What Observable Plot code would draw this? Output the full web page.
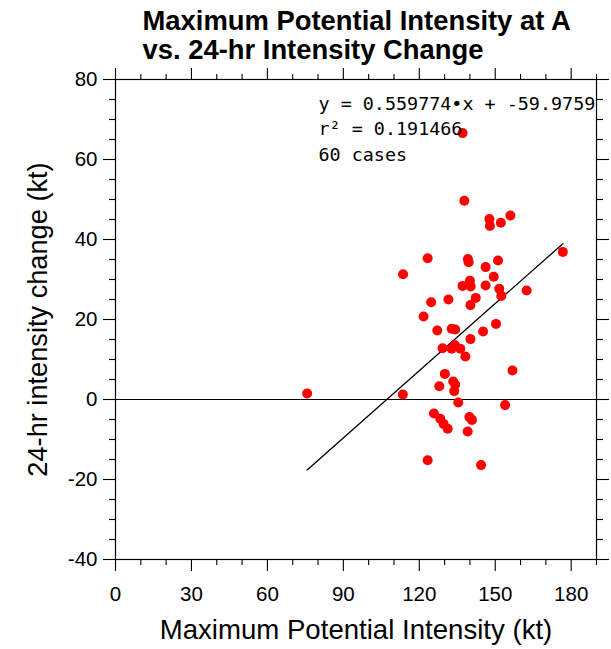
<!DOCTYPE html>
<html>
<head>
<meta charset="utf-8">
<script src="https://cdn.jsdelivr.net/npm/d3@7"></script>
<script src="https://cdn.jsdelivr.net/npm/@observablehq/plot@0.6"></script>
<style>
  html, body { margin: 0; padding: 0; background: #fff; }
  #chart svg { display: block; }
</style>
</head>
<body>
<div id="chart"></div>
<script>
// Maximum Potential Intensity (kt)
const mpi = [
  137.1, 137.8, 147.7, 156.0, 147.9, 152.2, 176.7, 123.3, 139.2, 139.5,
  151.1, 146.2, 113.6, 149.4, 140.0, 137.1, 140.3, 146.2, 151.6, 162.4,
  152.4, 142.3, 131.5, 124.7, 140.2, 121.7, 150.3, 127.1, 132.8, 134.2,
  145.2, 140.2, 129.2, 134.0, 132.8, 136.2, 138.2, 130.1, 156.8, 133.4,
  134.2, 75.7, 113.5, 127.9, 133.8, 135.4, 153.9, 125.8, 128.3, 139.8,
  140.8, 129.6, 131.2, 139.1, 123.3, 144.4
];
// 24-hr intensity change (kt)
const dvmax = [
  66.6, 49.7, 45.1, 46.0, 43.4, 44.2, 36.9, 35.3, 35.1, 34.3,
  34.75, 33.1, 31.3, 30.7, 29.7, 28.4, 28.25, 28.5, 27.7, 27.25,
  25.9, 25.4, 25.0, 24.3, 23.6, 20.75, 18.9, 17.25, 17.7, 17.5,
  17.0, 15.1, 12.8, 13.6, 12.7, 12.7, 10.75, 6.4, 7.25, 4.5,
  3.75, 1.5, 1.25, 3.3, 2.1, -0.75, -1.4, -3.5, -4.8, -4.4,
  -5.1, -6.1, -7.3, -8.0, -15.2, -16.4
];
const slope = 0.559774;
const intercept = -59.9759;
const statLines = ["y = 0.559774\u2022x + -59.9759", "r\u00b2 = 0.191466", "60 cases"];
const titleText = "Maximum Potential Intensity at A\nvs. 24-hr Intensity Change";
const xLabel = "Maximum Potential Intensity (kt)";
const yLabel = "24-hr intensity change (kt)";
const xMajor = [0, 30, 60, 90, 120, 150, 180];
const xMinor = [10, 20, 40, 50, 70, 80, 100, 110, 130, 140, 160, 170, 190];
const yMajor = [-40, -20, 0, 20, 40, 60, 80];
const yMinor = [-35, -30, -25, -15, -10, -5, 5, 10, 15, 25, 30, 35, 45, 50, 55, 65, 70, 75];

const points = mpi.map((x, i) => ({x, y: dvmax[i]}));
const xMin = d3.min(mpi), xMax = d3.max(mpi);
const fitLine = [xMin, xMax].map(x => ({x, y: slope * x + intercept}));

const blank = () => "";
const sans = "'Liberation Sans', Arial, Helvetica, sans-serif";

const plot = Plot.plot({
  width: 611,
  height: 649,
  marginLeft: 115,
  marginRight: 15,
  marginTop: 79,
  marginBottom: 90,
  style: {fontFamily: sans, color: "#000", background: "#fff", overflow: "visible"},
  x: {domain: [0, 190], label: null},
  y: {domain: [-40, 80], label: null},
  marks: [
    Plot.ruleY([0], {stroke: "#000", strokeWidth: 1}),
    Plot.line(fitLine, {x: "x", y: "y", stroke: "#000", strokeWidth: 1.3}),
    Plot.dot(points, {x: "x", y: "y", r: 5, fill: "#ff0000", stroke: "none"}),
    Plot.frame({stroke: "#000", strokeWidth: 1.2}),
    // bottom axis
    Plot.axisX({anchor: "bottom", ticks: xMajor, tickSize: 12, tickPadding: 15, fontSize: 20.5, tickFormat: d => String(d), label: null, strokeWidth: 1.1}),
    Plot.axisX({anchor: "bottom", ticks: xMinor, tickSize: 6, tickFormat: blank, label: null, strokeWidth: 1.1}),
    // top axis
    Plot.axisX({anchor: "top", ticks: xMajor, tickSize: 12, tickFormat: blank, label: null, strokeWidth: 1.1}),
    Plot.axisX({anchor: "top", ticks: xMinor, tickSize: 6, tickFormat: blank, label: null, strokeWidth: 1.1}),
    // left axis
    Plot.axisY({anchor: "left", ticks: yMajor, tickSize: 12, tickPadding: 6, fontSize: 20.5, tickFormat: d => String(d), label: null, strokeWidth: 1.1}),
    Plot.axisY({anchor: "left", ticks: yMinor, tickSize: 6, tickFormat: blank, label: null, strokeWidth: 1.1}),
    // right axis
    Plot.axisY({anchor: "right", ticks: yMajor, tickSize: 12, tickFormat: blank, label: null, strokeWidth: 1.1}),
    Plot.axisY({anchor: "right", ticks: yMinor, tickSize: 6, tickFormat: blank, label: null, strokeWidth: 1.1}),
    // statistics annotation
    Plot.text([statLines.join("\n")], {
      frameAnchor: "top-left", dx: 203, dy: 81, text: d => d,
      textAnchor: "start", lineAnchor: "bottom", lineHeight: 1.36,
      fontSize: 18.4, fontFamily: "'DejaVu Sans Mono', monospace", fill: "#000"
    }),
    // title
    Plot.text([titleText], {
      frameAnchor: "top-left", dx: 27, dy: -21, text: d => d,
      textAnchor: "start", lineAnchor: "bottom", lineHeight: 1.03,
      fontSize: 27.4, fontWeight: "bold", fill: "#000"
    }),
    // x label
    Plot.text([xLabel], {
      frameAnchor: "bottom", dy: 79, text: d => d,
      textAnchor: "middle", lineAnchor: "bottom", fontSize: 27.6, fill: "#000"
    }),
    // y label
    Plot.text([yLabel], {
      frameAnchor: "left", dx: -69, rotate: -90, text: d => d,
      textAnchor: "middle", lineAnchor: "bottom", fontSize: 27.2, fill: "#000"
    })
  ]
});
document.getElementById("chart").append(plot);
</script>
</body>
</html>
